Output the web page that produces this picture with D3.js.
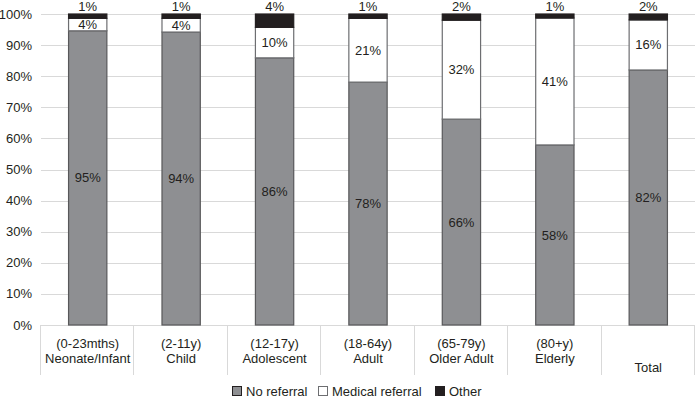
<!DOCTYPE html>
<html>
<head>
<meta charset="utf-8">
<script src="https://cdn.jsdelivr.net/npm/d3@7/dist/d3.min.js"></script>
<style>
  body { margin: 0; background: #fff; }
  svg { font-family: "Liberation Sans", Arial, sans-serif; }
</style>
</head>
<body>
<svg width="695" height="399"></svg>
<script>
// categorias (dos lineas cada una)
const categories = ['Neonate', 'Child', 'Adolescent', 'Adult', 'OlderAdult', 'Elderly', 'Total'];
const catLine1 = ['(0-23mths)', '(2-11y)', '(12-17y)', '(18-64y)', '(65-79y)', '(80+y)', ''];
const catLine2 = ['Neonate/Infant', 'Child', 'Adolescent', 'Adult', 'Older Adult', 'Elderly', 'Total'];

// valores en %
const noReferral = [94.6, 94.2, 85.9, 78.1, 66.2, 57.9, 82.0];
const medicalReferral = [4.0, 4.4, 9.8, 20.5, 31.8, 40.8, 16.1];
const other = [1.4, 1.4, 4.3, 1.4, 2.0, 1.3, 1.9];

const seriesNames = ['No referral', 'Medical referral', 'Other'];
const yTicks = [0, 10, 20, 30, 40, 50, 60, 70, 80, 90, 100];

const rows = categories.map((c, i) => ({
    cat: c,
    'No referral': noReferral[i],
    'Medical referral': medicalReferral[i],
    'Other': other[i]
}));

const colors = { 'No referral': '#8e8f92', 'Medical referral': '#ffffff', 'Other': '#231f20' };
const strokes = { 'No referral': '#58585a', 'Medical referral': '#6d6e71', 'Other': '#231f20' };

const svg = d3.select('svg');
const plotLeft = 41, plotRight = 695, plotTop = 14, plotBottom = 325;

const x = d3.scaleBand().domain(categories).range([plotLeft, plotRight]).paddingInner(0.59).paddingOuter(0.295);
const y = d3.scaleLinear().domain([0, 100]).range([plotBottom, plotTop]);

// lineas de cuadricula
svg.append('g')
    .selectAll('line')
    .data(yTicks.filter(t => t > 0))
    .enter().append('line')
    .attr('x1', plotLeft).attr('x2', plotRight)
    .attr('y1', d => Math.round(y(d)) + 0.5).attr('y2', d => Math.round(y(d)) + 0.5)
    .attr('stroke', '#d9d9d9').attr('stroke-width', 1);

// etiquetas del eje y
svg.append('g')
    .selectAll('text')
    .data(yTicks)
    .enter().append('text')
    .attr('x', 32).attr('y', d => y(d))
    .attr('dy', '0.35em')
    .attr('text-anchor', 'end')
    .attr('font-size', 13)
    .attr('fill', '#231f20')
    .text(d => d + '%');

// eje x con separadores
const step = x.step();
const sepX = d3.range(categories.length + 1).map(i => plotLeft + i * step);
svg.append('line')
    .attr('x1', plotLeft).attr('x2', plotRight)
    .attr('y1', plotBottom + 0.5).attr('y2', plotBottom + 0.5)
    .attr('stroke', '#d9d9d9');
svg.append('g')
    .selectAll('line')
    .data(sepX)
    .enter().append('line')
    .attr('x1', d => Math.round(d) - 0.5).attr('x2', d => Math.round(d) - 0.5)
    .attr('y1', plotBottom).attr('y2', 375)
    .attr('stroke', '#d9d9d9');

// barras apiladas
const stack = d3.stack().keys(seriesNames);
const stacked = stack(rows);

const layer = svg.append('g')
    .selectAll('g')
    .data(stacked)
    .enter().append('g');

layer.selectAll('rect')
    .data(d => d.map(v => Object.assign(v, { key: d.key })))
    .enter().append('rect')
    .attr('x', d => x(d.data.cat))
    .attr('width', x.bandwidth())
    .attr('y', d => y(d[1]))
    .attr('height', d => y(d[0]) - y(d[1]))
    .attr('fill', d => colors[d.key])
    .attr('stroke', d => strokes[d.key])
    .attr('stroke-width', 1.2);

// etiquetas de valores
const fmt = v => Math.round(v) + '%';
layer.selectAll('text')
    .data(d => d)
    .enter().append('text')
    .attr('x', d => x(d.data.cat) + x.bandwidth() / 2)
    .attr('y', d => d.key === 'Other' ? 6 : y((d[0] + d[1]) / 2))
    .attr('dy', '0.35em')
    .attr('text-anchor', 'middle')
    .attr('font-size', 13)
    .attr('fill', '#231f20')
    .text(d => fmt(d[1] - d[0]));

// etiquetas de categorias
const catG = svg.append('g')
    .selectAll('g')
    .data(categories)
    .enter().append('g');
catG.append('text')
    .attr('x', d => x(d) + x.bandwidth() / 2)
    .attr('y', 343).attr('dy', '0.35em')
    .attr('text-anchor', 'middle').attr('font-size', 13).attr('fill', '#231f20')
    .text((d, i) => catLine1[i]);
catG.append('text')
    .attr('x', d => x(d) + x.bandwidth() / 2)
    .attr('y', (d, i) => catLine1[i] ? 358 : 367).attr('dy', '0.35em')
    .attr('text-anchor', 'middle').attr('font-size', 13).attr('fill', '#231f20')
    .text((d, i) => catLine2[i]);

// leyenda
const legendX = [232, 318, 435];
const legend = svg.append('g')
    .selectAll('g')
    .data(seriesNames)
    .enter().append('g')
    .attr('transform', (d, i) => `translate(${legendX[i]},386)`);
legend.append('rect')
    .attr('x', 0.5).attr('y', 0.5)
    .attr('width', 9).attr('height', 9)
    .attr('fill', d => colors[d])
    .attr('stroke', d => d === 'No referral' ? '#231f20' : strokes[d]);
legend.append('text')
    .attr('x', 14).attr('y', 5).attr('dy', '0.35em')
    .attr('font-size', 13).attr('fill', '#231f20')
    .text(d => d);
</script>
</body>
</html>
